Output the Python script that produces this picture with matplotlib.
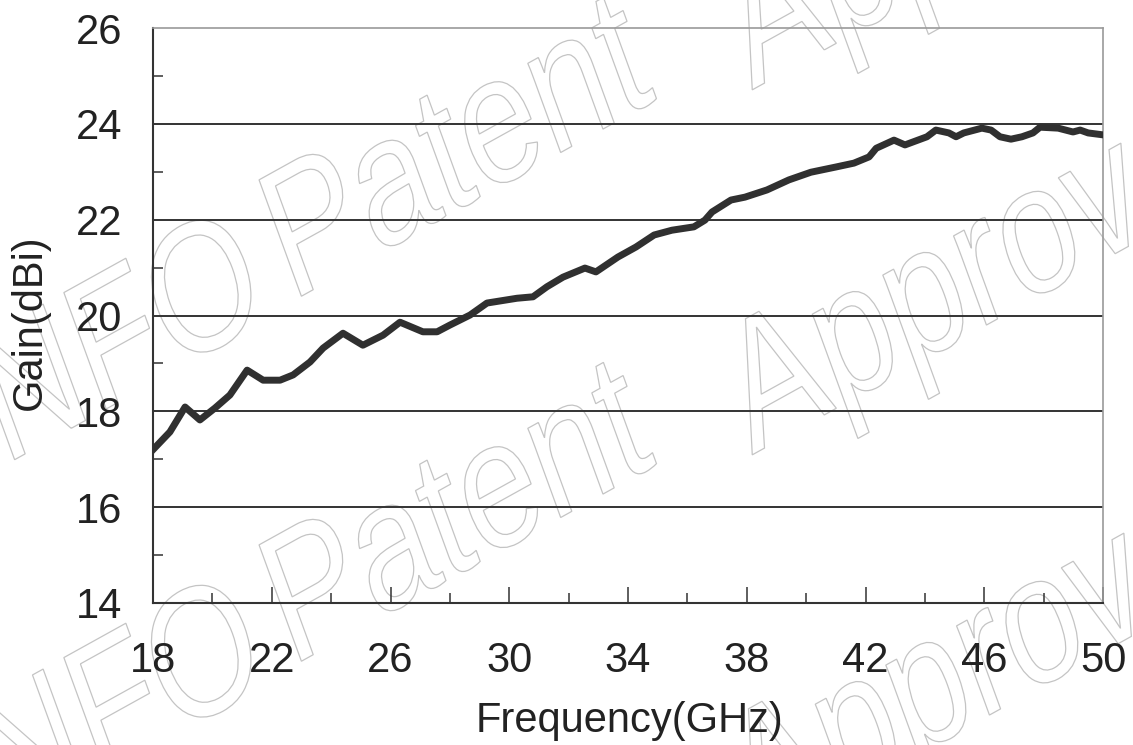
import numpy as np
import matplotlib
matplotlib.use("Agg")
import matplotlib.pyplot as plt
from matplotlib.textpath import TextPath
from matplotlib.patches import PathPatch
from matplotlib.font_manager import FontProperties
from matplotlib.transforms import Affine2D

freq_ghz = [18.0, 18.57, 19.08, 19.58, 20.09, 20.59, 21.17, 21.71, 22.28, 22.72,
            23.29, 23.73, 24.40, 25.07, 25.75, 26.32, 27.09, 27.57, 28.0, 28.68,
            29.25, 30.26, 30.80, 31.27, 31.81, 32.55, 32.92, 33.66, 34.27, 34.88,
            35.48, 36.22, 36.59, 36.83, 37.47, 37.94, 38.68, 39.42, 40.16, 41.01,
            41.61, 42.12, 42.36, 42.96, 43.33, 44.07, 44.37, 44.81, 45.05, 45.31,
            45.92, 46.23, 46.53, 46.90, 47.27, 47.64, 47.88, 48.49, 48.99, 49.23,
            49.50, 50.0]
gain_dbi = [17.2, 17.57, 18.09, 17.82, 18.07, 18.34, 18.86, 18.65, 18.65, 18.76,
            19.03, 19.32, 19.63, 19.38, 19.59, 19.86, 19.66, 19.66, 19.80, 20.01,
            20.26, 20.36, 20.39, 20.6, 20.80, 20.99, 20.91, 21.22, 21.43, 21.68,
            21.78, 21.85, 21.99, 22.16, 22.41, 22.47, 22.62, 22.83, 22.99, 23.10,
            23.18, 23.31, 23.49, 23.66, 23.56, 23.73, 23.87, 23.81, 23.73, 23.81,
            23.91, 23.87, 23.73, 23.68, 23.73, 23.81, 23.93, 23.91, 23.83, 23.87,
            23.81, 23.77]

x_major = [18, 22, 26, 30, 34, 38, 42, 46, 50]
x_minor = [20, 24, 28, 32, 36, 40, 44, 48]
y_major = [14, 16, 18, 20, 22, 24, 26]
y_minor = [15, 17, 19, 21, 23, 25]
grid_levels = [16, 18, 20, 22, 24]

# watermark words and where each starts in one row (pixels, y from top)
wm_words = ["INFO", "Patent", "Approved"]
wm_word_px = [(-31, 850), (291, 667), (752, 455)]
wm_row_shift = [(0, -365), (0, 0), (3, 390)]

W, H = 1133, 745
plt.rcParams['font.family'] = ['Liberation Sans', 'DejaVu Sans']

fig = plt.figure(figsize=(W / 100, H / 100), dpi=100)
ax = fig.add_axes([153 / W, 142 / H, 950 / W, 575 / H])
ax.set_facecolor('none')

# faint outlined, slanted watermark behind the axes
wm_prop = FontProperties(family='Liberation Sans')
alpha, beta = np.radians(29), np.radians(20)
sx, sy = 145, 180
slant = np.array([[sx * np.cos(alpha), -sy * np.sin(beta), 0],
                  [sx * np.sin(alpha), sy * np.cos(beta), 0],
                  [0, 0, 1]])
px_to_fig = Affine2D().scale(1 / W, 1 / H) + fig.transFigure
for dx, dy in wm_row_shift:
    for word, (x0, y0) in zip(wm_words, wm_word_px):
        path = TextPath((0, 0), word, size=1, prop=wm_prop)
        tr = Affine2D(slant).translate(x0 + dx, H - (y0 + dy)) + px_to_fig
        fig.add_artist(PathPatch(path, transform=tr, facecolor='none',
                                 edgecolor='#c4c4c4', lw=0.9, zorder=-1))

ax.hlines(grid_levels, 18, 50, colors='#333333', lw=1.4, zorder=1)
ax.plot(freq_ghz, gain_dbi, color='#303030', lw=5,
        solid_joinstyle='round', zorder=3)

ax.set_xlim(18, 50)
ax.set_ylim(14, 26)
ax.set_xticks(x_major)
ax.set_xticks(x_minor, minor=True)
ax.set_yticks(y_major)
ax.set_yticks(y_minor, minor=True)

ax.tick_params(axis='x', which='major', direction='in', length=11.5, width=1.1,
               color='#333333', pad=27, labelsize=30, labelcolor='#222222')
ax.tick_params(axis='x', which='minor', direction='in', length=7.2, width=1.1,
               color='#333333')
ax.tick_params(axis='y', which='major', direction='in', length=0, pad=22,
               labelsize=30, labelcolor='#222222')
ax.tick_params(axis='y', which='minor', direction='in', length=7.2, width=1.1,
               color='#333333')

for side in ['left', 'bottom']:
    ax.spines[side].set_color('#333333')
    ax.spines[side].set_linewidth(1.5)
for side in ['top', 'right']:
    ax.spines[side].set_color('#9a9a9a')
    ax.spines[side].set_linewidth(1.2)

fig.text(630 / W, 13 / H, 'Frequency(GHz)', ha='center', va='baseline',
         fontsize=30, color='#222222')
fig.text(30 / W, (H - 322) / H, 'Gain(dBi)', rotation=90, ha='center',
         va='center', fontsize=30, color='#222222')

fig.savefig('out.png', dpi=100)
